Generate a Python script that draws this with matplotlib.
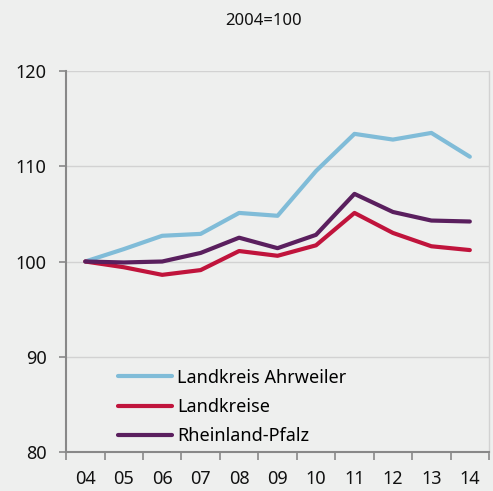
import matplotlib.pyplot as plt
import numpy as np

plt.rcParams['font.family'] = ['Noto Sans', 'DejaVu Sans']

years = ['04', '05', '06', '07', '08', '09', '10', '11', '12', '13', '14']
ahrweiler = [100, 101.3, 102.7, 102.9, 105.1, 104.8, 109.5, 113.4, 112.8, 113.5, 111.0]
landkreise = [100, 99.4, 98.6, 99.1, 101.1, 100.6, 101.7, 105.1, 103.0, 101.6, 101.2]
rlp = [100, 99.9, 100.0, 100.9, 102.5, 101.4, 102.8, 107.1, 105.2, 104.3, 104.2]

bg = '#eeefee'
fig = plt.figure(figsize=(4.93, 4.91), dpi=100, facecolor=bg)
ax = fig.add_axes([0.134, 0.0794, 0.858, 0.776], facecolor=bg)

x = np.arange(len(years))
ax.plot(x, ahrweiler, color='#80bcd8', lw=3, label='Landkreis Ahrweiler', solid_capstyle='round')
ax.plot(x, landkreise, color='#c0143c', lw=3, label='Landkreise', solid_capstyle='round')
ax.plot(x, rlp, color='#5a1f5e', lw=3, label='Rheinland-Pfalz', solid_capstyle='round')

ax.set_ylim(80, 120)
ax.set_yticks([80, 90, 100, 110, 120])
ax.set_xlim(-0.5, 10.5)
ax.set_xticks(x)
ax.set_xticklabels(years)
ax.set_xticks(np.arange(-0.5, 11, 1), minor=True)
ax.tick_params(axis='x', which='major', length=0, pad=13, labelsize=13, colors='#111111')
ax.tick_params(axis='x', which='minor', length=6, width=1.2, color='#888888')
ax.tick_params(axis='y', length=5, width=1.2, color='#888888', pad=9, labelsize=13, labelcolor='#111111')

ax.yaxis.grid(True, color='#d2d2d2', lw=1)
ax.set_axisbelow(True)
for s in ['left', 'bottom']:
    ax.spines[s].set_color('#888888')
    ax.spines[s].set_linewidth(1.5)
ax.spines['top'].set_visible(False)
ax.spines['right'].set_color('#d2d2d2')
ax.spines['right'].set_linewidth(1)

leg = ax.legend(loc='lower left', bbox_to_anchor=(0.085, -0.025), frameon=False, fontsize=13,
                handlelength=3.0, handletextpad=0.25, labelspacing=0.63)

fig.text(0.535, 0.957, '2004=100', ha='center', va='center', fontsize=12, color='#111111')

fig.savefig('out.png', dpi=100, facecolor=bg)
